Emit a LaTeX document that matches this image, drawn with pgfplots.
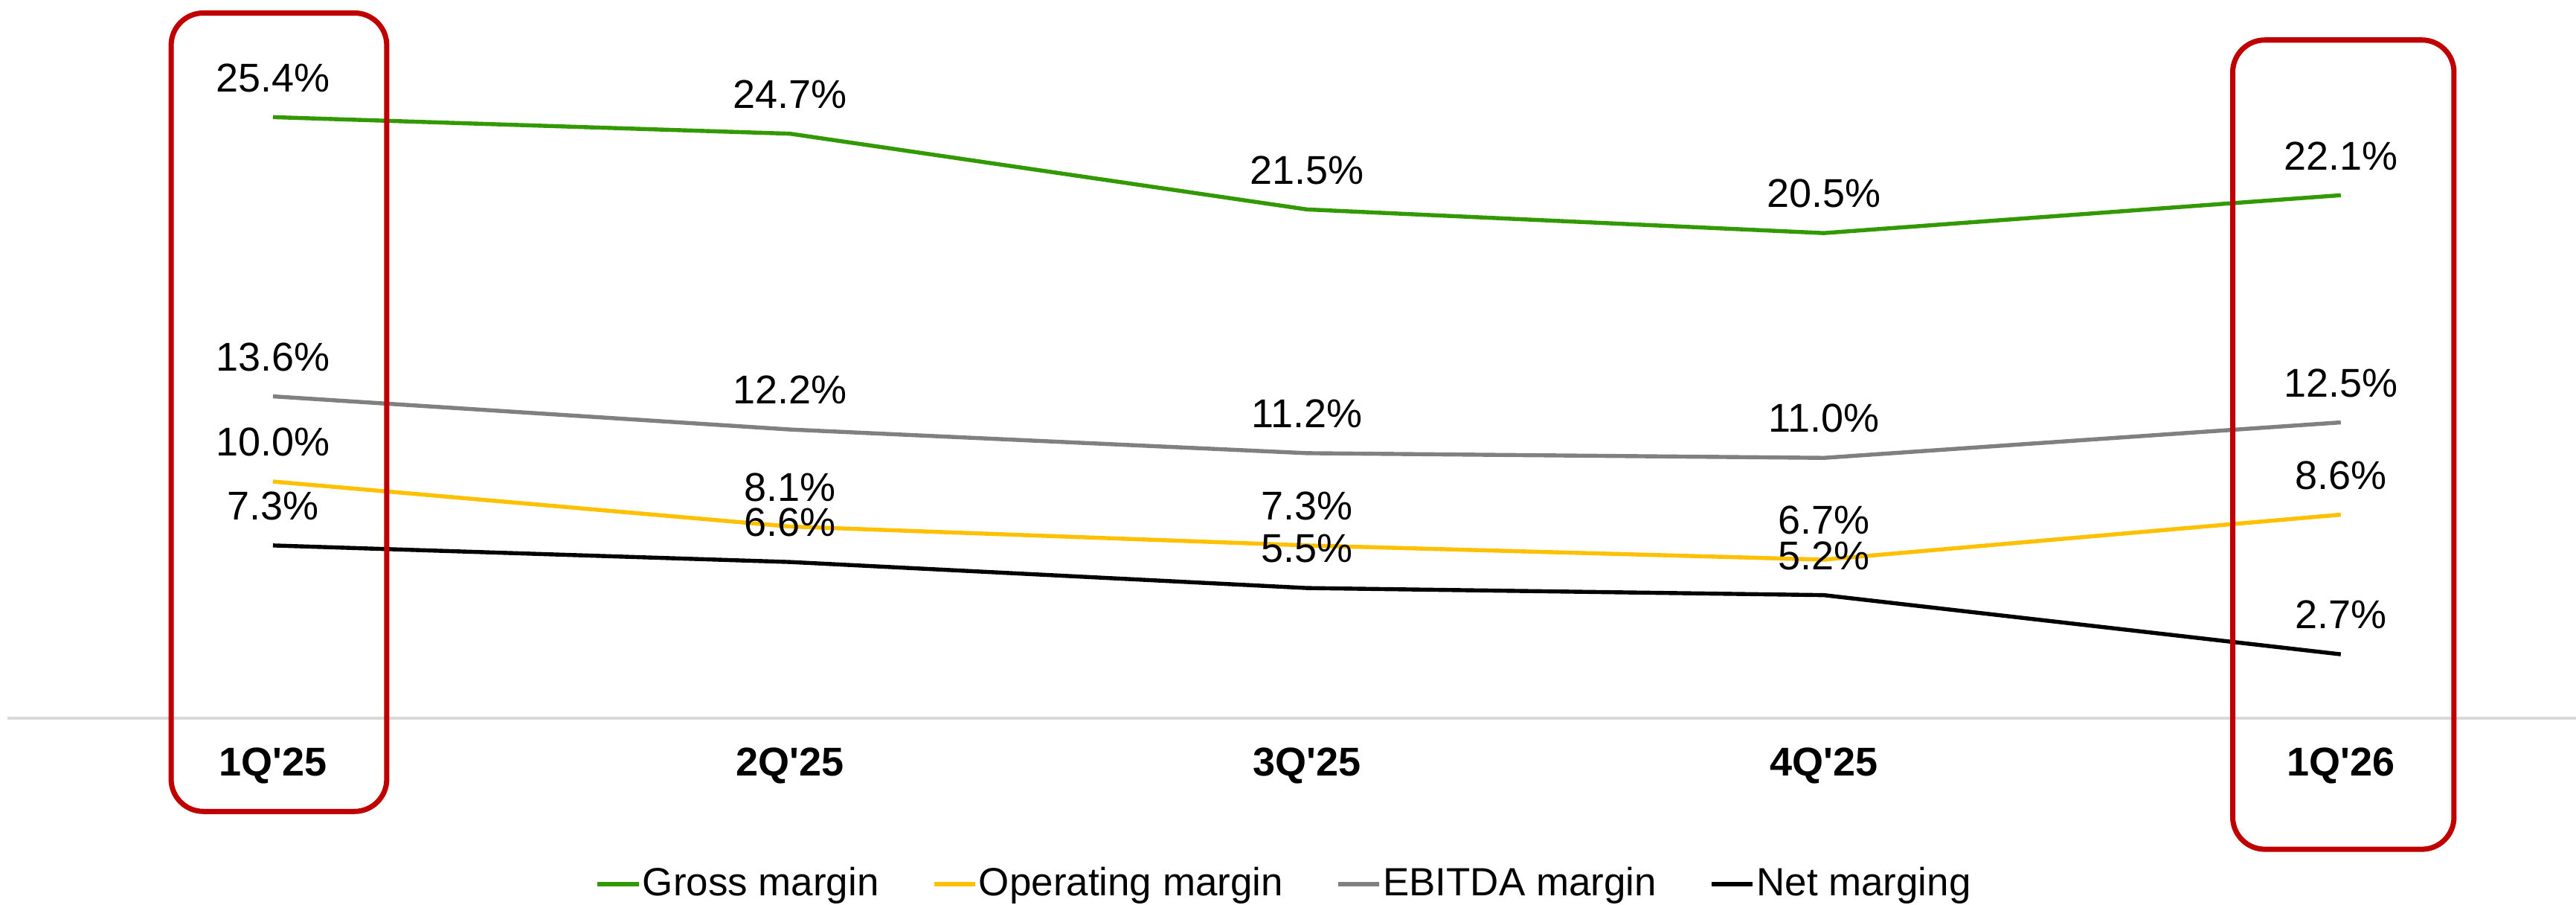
\documentclass[border=0pt]{standalone}
\usepackage{pgfplots}
\pgfplotsset{compat=1.18}
\usepackage{fontspec}
\setmainfont{Liberation Sans}
\definecolor{cgreen}{HTML}{339900}
\definecolor{cyellow}{HTML}{FFC000}
\definecolor{cgray}{HTML}{808080}
\definecolor{cred}{HTML}{C00000}
\definecolor{lgray}{HTML}{D9D9D9}
\begin{document}
\begin{tikzpicture}
\begin{axis}[
  scale only axis,
  width=639.4pt, height=178.7pt,
  xmin=-0.5137, xmax=4.4547,
  ymin=0, ymax=30.35,
  clip=false,
  hide y axis,
  axis x line*=bottom,
  x axis line style={-, color=lgray, line width=0.6pt},
  xtick={0,1,2,3,4},
  xticklabels={1Q\textquotesingle25,2Q\textquotesingle25,3Q\textquotesingle25,4Q\textquotesingle25,1Q\textquotesingle26},
  major tick length=0pt,
  xticklabel style={anchor=center, yshift=-11.9pt, font=\fontsize{10}{12}\selectfont\bfseries},
  /pgf/number format/assume math mode=true,
  nodes near coords={\pgfmathprintnumber[fixed,fixed zerofill,precision=1]{\pgfplotspointmeta}\%},
  every node near coord/.append style={anchor=center, yshift=9.8pt, font=\fontsize{10}{12}\selectfont, text=black, inner sep=0pt},
  every axis plot/.append style={line width=1pt, mark=none},
  legend style={at={(0.497,-0.231)}, anchor=center, draw=none, fill=none,
    legend columns=4, font=\fontsize{9.8}{12}\selectfont,
    nodes={inner sep=0.4pt},
    /tikz/every even column/.append style={column sep=12.7pt},
    inner sep=0pt, cells={anchor=west}},
  legend image code/.code={\draw[#1, line width=1.2pt] (0pt,0pt) -- (10.2pt,0pt);},
]
\addplot[cgreen] coordinates {(0,25.4) (1,24.7) (2,21.5) (3,20.5) (4,22.1)};
\addlegendentry{Gross margin}
\addplot[cyellow] coordinates {(0,10.0) (1,8.1) (2,7.3) (3,6.7) (4,8.6)};
\addlegendentry{Operating margin}
\addplot[cgray] coordinates {(0,13.6) (1,12.2) (2,11.2) (3,11.0) (4,12.5)};
\addlegendentry{EBITDA margin}
\addplot[black] coordinates {(0,7.3) (1,6.6) (2,5.5) (3,5.2) (4,2.7)};
\addlegendentry{Net marging}
\draw[cred, line width=1.3pt, rounded corners=8pt] (axis cs:-0.197,29.8) rectangle (axis cs:0.220,-3.94);
\draw[cred, line width=1.3pt, rounded corners=8pt] (axis cs:3.791,28.66) rectangle (axis cs:4.219,-5.54);
\end{axis}
\pgfresetboundingbox
\path[use as bounding box] (-1.852pt,-46.48pt) rectangle (639.44pt,178.70pt);
\end{tikzpicture}
\end{document}
